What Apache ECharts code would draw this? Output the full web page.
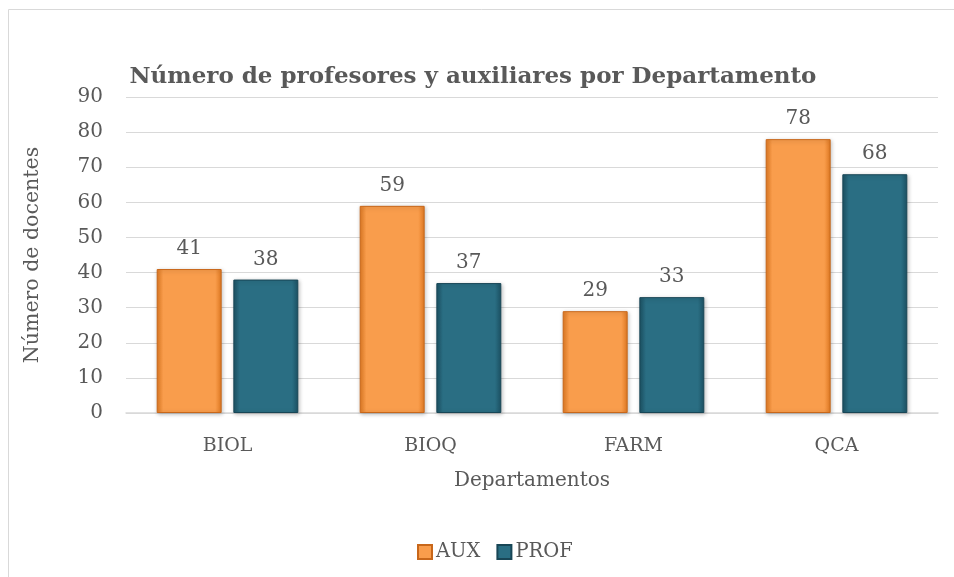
<!DOCTYPE html>
<html>
<head>
<meta charset="utf-8">
<script src="https://cdn.jsdelivr.net/npm/echarts@6/dist/echarts.min.js"></script>
<style>
  html, body { margin: 0; padding: 0; background: #fff; }
  #chart { width: 954px; height: 577px; }
</style>
</head>
<body>
<div id="chart"></div>
<script>
  // datos
  var departamentos = ['BIOL', 'BIOQ', 'FARM', 'QCA'];
  var aux = [41, 59, 29, 78];
  var prof = [38, 37, 33, 68];
  var yTicks = [0, 10, 20, 30, 40, 50, 60, 70, 80, 90];

  var fuente = 'DejaVu Serif';
  var gris = '#595959';

  // degradado horizontal para imitar el biselado de Excel
  function bisel(borde, centro) {
    return new echarts.graphic.LinearGradient(0, 0, 1, 0, [
      { offset: 0, color: borde },
      { offset: 0.1, color: centro },
      { offset: 0.9, color: centro },
      { offset: 1, color: borde }
    ]);
  }

  var myChart = echarts.init(document.getElementById('chart'));
  myChart.setOption({
    animation: false,
    textStyle: { fontFamily: fuente, color: gris },
    graphic: [{
      type: 'rect',
      shape: { x: 8.5, y: 9.5, width: 960, height: 600 },
      style: { fill: 'none', stroke: '#d9d9d9', lineWidth: 1 },
      silent: true
    }],
    title: {
      text: 'Número de profesores y auxiliares por Departamento',
      left: 468,
      top: 61,
      textAlign: 'center',
      textStyle: { fontFamily: fuente, fontSize: 23, fontWeight: 'bold', color: gris }
    },
    legend: {
      data: ['AUX', 'PROF'],
      icon: 'rect',
      left: 412,
      top: 537,
      itemWidth: 14,
      itemHeight: 14,
      itemGap: 16,
      textStyle: { fontFamily: fuente, fontSize: 19.5, color: gris, padding: [0, 0, 0, -1] }
    },
    grid: { left: 126, right: 16, top: 97, bottom: 164 },
    xAxis: {
      type: 'category',
      data: departamentos,
      name: 'Departamentos',
      nameLocation: 'middle',
      nameGap: 58,
      nameTextStyle: { fontFamily: fuente, fontSize: 20, color: gris },
      axisLine: { lineStyle: { color: '#d9d9d9', width: 1.5 } },
      axisTick: { show: false },
      axisLabel: { fontFamily: fuente, fontSize: 19, color: gris, margin: 24 }
    },
    yAxis: {
      type: 'value',
      min: yTicks[0],
      max: yTicks[yTicks.length - 1],
      interval: 10,
      name: 'Número de docentes',
      nameLocation: 'middle',
      nameGap: 83,
      nameTextStyle: { fontFamily: fuente, fontSize: 20.5, color: gris },
      axisLine: { show: false },
      axisTick: { show: false },
      axisLabel: { fontFamily: fuente, fontSize: 20, color: gris, margin: 23 },
      splitLine: { lineStyle: { color: '#d9d9d9', width: 1 } }
    },
    series: [{
      name: 'AUX',
      type: 'bar',
      data: aux,
      barWidth: '32%',
      barGap: '18%',
      itemStyle: {
        color: bisel('#e27a22', '#f99d4c'),
        borderColor: '#c8671a',
        borderWidth: 1,
        shadowColor: 'rgba(0,0,0,0.25)',
        shadowBlur: 4,
        shadowOffsetX: 1,
        shadowOffsetY: 1
      },
      label: { show: true, position: 'top', distance: 10, fontFamily: fuente, fontSize: 20, color: gris }
    }, {
      name: 'PROF',
      type: 'bar',
      data: prof,
      barWidth: '32%',
      itemStyle: {
        color: bisel('#1c5264', '#2a6e83'),
        borderColor: '#184656',
        borderWidth: 1,
        shadowColor: 'rgba(0,0,0,0.25)',
        shadowBlur: 4,
        shadowOffsetX: 1,
        shadowOffsetY: 1
      },
      label: { show: true, position: 'top', distance: 10, fontFamily: fuente, fontSize: 20, color: gris }
    }]
  });
</script>
</body>
</html>
